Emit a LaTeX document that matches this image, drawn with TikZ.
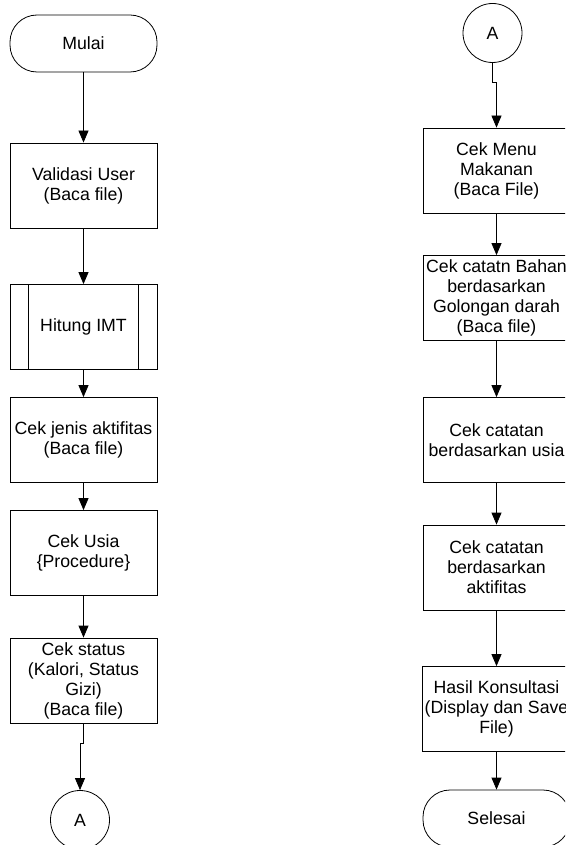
\documentclass[tikz,border=0pt]{standalone}
\usepackage{fontspec}
\setmainfont{Liberation Sans}
\usetikzlibrary{arrows.meta}
\begin{document}
\begin{tikzpicture}[x=1pt,y=-1pt,
  every node/.style={font=\fontsize{17.7}{20}\selectfont, align=center, inner sep=2pt},
  procbox/.style={draw, line width=0.8pt, minimum width=147pt, minimum height=85pt},
  termbox/.style={draw, line width=0.8pt, rounded corners=27pt, minimum width=147pt, minimum height=57pt},
  conn/.style={draw, circle, line width=0.8pt, minimum size=59pt, inner sep=0pt},
  arr/.style={line width=0.8pt, -{Triangle[length=12pt,width=10pt]}}
]
\useasboundingbox (0,0) rectangle (565,845);
\clip (0,0) rectangle (565,845);
% left column
\node[termbox] (mulai) at (83.5,43.5) {Mulai};
\node[procbox] (valid) at (83.5,185.5) {Validasi User\\(Baca file)};
\node[procbox] (imt) at (83.5,327) {Hitung IMT};
\draw[line width=0.8pt] ([xshift=19pt]imt.north west) -- ([xshift=19pt]imt.south west);
\draw[line width=0.8pt] ([xshift=-19pt]imt.north east) -- ([xshift=-19pt]imt.south east);
\node[procbox] (jenis) at (83.5,440) {Cek jenis aktifitas\\(Baca file)};
\node[procbox] (usia) at (83.5,553) {Cek Usia\\\{Procedure\}};
\node[procbox] (stat) at (83.5,680.5) {Cek status\\(Kalori, Status\\Gizi)\\(Baca file)};
\node[conn] (aleft) at (80,820) {A};
\coordinate (j1) at (83.5,743);
\coordinate (j2) at (80,743);
\draw[arr] (mulai) -- (valid);
\draw[arr] (valid) -- (imt);
\draw[arr] (imt) -- (jenis);
\draw[arr] (jenis) -- (usia);
\draw[arr] (usia) -- (stat);
\draw[arr] (stat.south) -- (j1) -- (j2) -- (aleft.north);
% right column
\node[conn] (aright) at (492.5,33) {A};
\node[procbox] (menu) at (496.5,170.5) {Cek Menu\\Makanan\\(Baca File)};
\node[procbox] (bahan) at (496.5,298) {Cek catatn Bahan\\berdasarkan\\Golongan darah\\(Baca file)};
\node[procbox] (rusia) at (496.5,440) {Cek catatan\\berdasarkan usia};
\node[procbox] (raktif) at (496.5,567.5) {Cek catatan\\berdasarkan\\aktifitas};
\node[procbox] (hasil) at (496.5,709) {Hasil Konsultasi\\(Display dan Save\\File)};
\node[termbox] (selesai) at (496.5,818.5) {Selesai};
\coordinate (k1) at (492.5,82);
\coordinate (k2) at (496.5,82);
\draw[arr] (aright.south) -- (k1) -- (k2) -- (menu.north);
\draw[arr] (menu) -- (bahan);
\draw[arr] (bahan) -- (rusia);
\draw[arr] (rusia) -- (raktif);
\draw[arr] (raktif) -- (hasil);
\draw[arr] (hasil) -- (selesai);
\end{tikzpicture}
\end{document}
